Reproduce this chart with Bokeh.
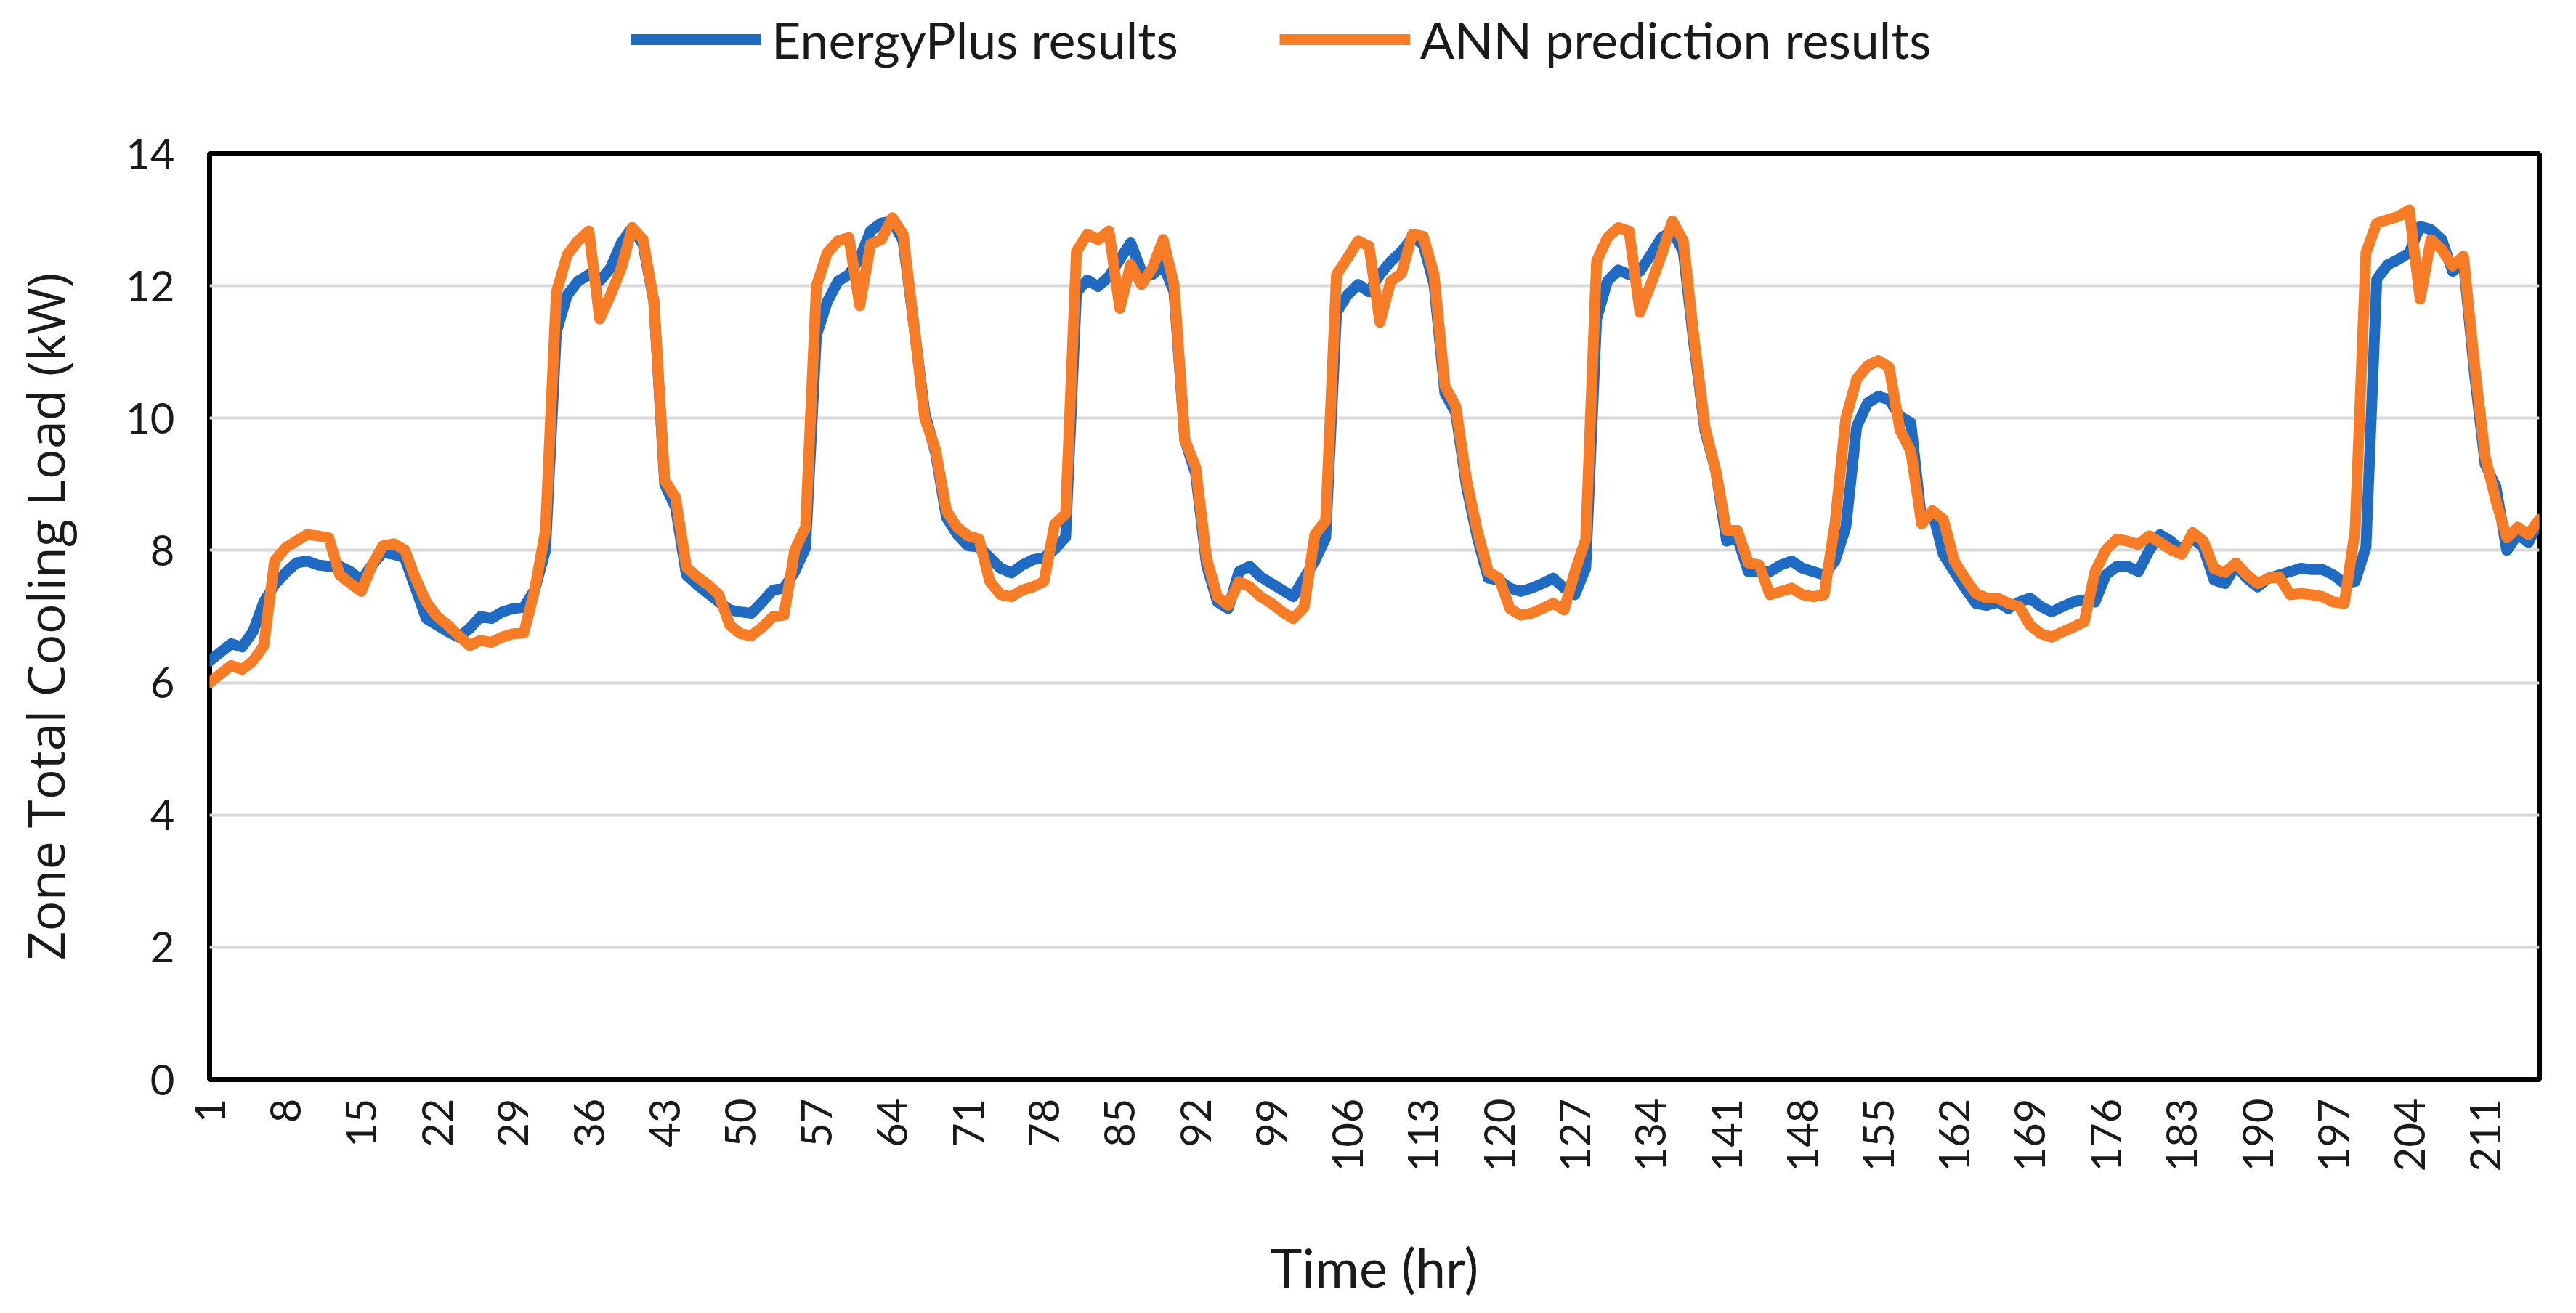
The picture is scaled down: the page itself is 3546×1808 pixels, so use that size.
import numpy as np
from bokeh.plotting import figure
from bokeh.layouts import column
from bokeh.models import Range1d, FixedTicker, Legend, LegendItem
from bokeh.embed import file_html
from bokeh.resources import INLINE

# ---------------- data ----------------
hours = list(range(1, 217))

energyplus = [
    6.33, 6.46, 6.59, 6.54, 6.77, 7.22, 7.48, 7.66, 7.81, 7.84,
    7.78, 7.76, 7.76, 7.68, 7.55, 7.78, 7.97, 7.94, 7.89, 7.43,
    6.97, 6.87, 6.77, 6.69, 6.82, 7.00, 6.97, 7.07, 7.12, 7.14,
    7.40, 8.00, 11.30, 11.86, 12.07, 12.17, 12.07, 12.27, 12.65, 12.88,
    12.63, 11.76, 9.00, 8.65, 7.63, 7.48, 7.35, 7.22, 7.10, 7.07,
    7.05, 7.22, 7.40, 7.43, 7.68, 8.04, 11.25, 11.76, 12.07, 12.17,
    12.42, 12.83, 12.95, 12.98, 12.68, 11.40, 10.08, 9.47, 8.50, 8.24,
    8.07, 8.05, 7.89, 7.73, 7.66, 7.78, 7.86, 7.89, 8.02, 8.20,
    11.90, 12.09, 11.99, 12.14, 12.40, 12.65, 12.22, 12.17, 12.32, 11.91,
    9.67, 9.16, 7.78, 7.22, 7.12, 7.68, 7.76, 7.60, 7.50, 7.40,
    7.30, 7.58, 7.84, 8.19, 11.60, 11.86, 12.02, 11.91, 12.17, 12.37,
    12.52, 12.73, 12.63, 12.02, 10.38, 10.08, 8.96, 8.19, 7.58, 7.55,
    7.43, 7.38, 7.43, 7.50, 7.58, 7.43, 7.33, 7.73, 11.50, 12.07,
    12.24, 12.17, 12.22, 12.47, 12.73, 12.83, 12.52, 11.10, 9.81, 9.20,
    8.14, 8.19, 7.68, 7.68, 7.68, 7.78, 7.84, 7.73, 7.68, 7.63,
    7.84, 8.35, 9.87, 10.23, 10.33, 10.28, 10.03, 9.93, 8.45, 8.58,
    7.94, 7.68, 7.43, 7.20, 7.17, 7.22, 7.12, 7.22, 7.28, 7.15,
    7.07, 7.15, 7.22, 7.25, 7.22, 7.63, 7.76, 7.76, 7.68, 8.00,
    8.24, 8.14, 8.00, 8.19, 8.04, 7.55, 7.50, 7.78, 7.58, 7.45,
    7.58, 7.63, 7.68, 7.73, 7.71, 7.71, 7.63, 7.50, 7.53, 8.05,
    12.10, 12.32, 12.40, 12.50, 12.90, 12.85, 12.70, 12.22, 12.37, 10.70,
    9.30, 8.96, 8.00, 8.24, 8.12, 8.45,
]

ann_prediction = [
    6.00, 6.13, 6.26, 6.20, 6.33, 6.56, 7.84, 8.04, 8.14, 8.24,
    8.22, 8.19, 7.63, 7.50, 7.38, 7.78, 8.07, 8.10, 8.01, 7.58,
    7.22, 7.00, 6.87, 6.71, 6.56, 6.64, 6.61, 6.69, 6.74, 6.75,
    7.40, 8.30, 11.90, 12.47, 12.68, 12.83, 11.50, 11.86, 12.27, 12.88,
    12.70, 11.76, 9.06, 8.80, 7.75, 7.60, 7.48, 7.33, 6.87, 6.74,
    6.71, 6.84, 7.00, 7.02, 8.00, 8.35, 12.00, 12.50, 12.68, 12.73,
    11.70, 12.63, 12.70, 13.03, 12.78, 11.40, 10.00, 9.52, 8.60, 8.35,
    8.22, 8.17, 7.53, 7.33, 7.30, 7.40, 7.45, 7.53, 8.40, 8.55,
    12.52, 12.78, 12.70, 12.83, 11.66, 12.32, 12.02, 12.27, 12.70, 12.02,
    9.67, 9.26, 7.89, 7.30, 7.17, 7.53, 7.45, 7.30, 7.20, 7.07,
    6.97, 7.14, 8.24, 8.45, 12.17, 12.42, 12.68, 12.60, 11.45, 12.07,
    12.19, 12.78, 12.75, 12.17, 10.49, 10.18, 9.06, 8.29, 7.68, 7.58,
    7.12, 7.02, 7.05, 7.12, 7.20, 7.10, 7.68, 8.17, 12.37, 12.73,
    12.88, 12.83, 11.60, 12.02, 12.47, 12.98, 12.68, 11.20, 9.87, 9.20,
    8.30, 8.30, 7.81, 7.78, 7.33, 7.38, 7.43, 7.33, 7.30, 7.33,
    8.40, 10.00, 10.59, 10.79, 10.87, 10.77, 9.82, 9.50, 8.40, 8.60,
    8.47, 7.84, 7.58, 7.35, 7.28, 7.28, 7.20, 7.15, 6.87, 6.74,
    6.69, 6.77, 6.84, 6.92, 7.68, 8.01, 8.17, 8.14, 8.09, 8.22,
    8.12, 8.01, 7.94, 8.27, 8.14, 7.72, 7.67, 7.81, 7.63, 7.50,
    7.58, 7.60, 7.33, 7.35, 7.33, 7.30, 7.22, 7.20, 8.30, 12.50,
    12.95, 13.00, 13.05, 13.15, 11.80, 12.70, 12.55, 12.30, 12.45, 10.84,
    9.42, 8.75, 8.19, 8.35, 8.24, 8.47,
]

x_ticks = list(range(1, 217, 7))
y_ticks = [0, 2, 4, 6, 8, 10, 12, 14]

series_names = ["EnergyPlus results", "ANN prediction results"]
series_colors = ["#1F6BC4", "#F87C25"]

FONT = "Lato"
LINE_W = 15

# ---------------- legend strip (above the chart) ----------------
# The legend strip holds copies of the two series whose data lies outside
# its (empty) view; only their legend glyphs are visible.
leg_fig = figure(
    width=3530, height=165,
    output_backend="svg", toolbar_location=None,
    x_range=Range1d(-1000, -999), y_range=Range1d(0, 1),
    min_border_left=0, min_border_right=0, min_border_top=0, min_border_bottom=0,
    outline_line_color=None, background_fill_color="white", border_fill_color="white",
)
leg_fig.axis.visible = False
leg_fig.grid.visible = False
lg_blue = leg_fig.line(hours, energyplus, line_color=series_colors[0], line_width=LINE_W)
lg_orange = leg_fig.line(hours, ann_prediction, line_color=series_colors[1], line_width=LINE_W)

legend = Legend(
    items=[LegendItem(label=series_names[0], renderers=[lg_blue]),
           LegendItem(label=series_names[1], renderers=[lg_orange])],
    orientation="horizontal",
    location=(580, 69),
    glyph_width=180, glyph_height=70, label_height=70,
    label_standoff=14, spacing=139,
    padding=0, margin=0,
    border_line_color=None, background_fill_alpha=0,
    label_text_font=FONT, label_text_font_size="70px",
    label_text_color="#1a1a1a",
)
leg_fig.add_layout(legend, "center")

# ---------------- main chart ----------------
p = figure(
    width=3530, height=1627,
    output_backend="svg", toolbar_location=None,
    x_range=Range1d(1, 216), y_range=Range1d(0, 14),
    min_border_left=288, min_border_right=35,
    min_border_top=46, min_border_bottom=303,
    background_fill_color="white", border_fill_color="white",
)

p.outline_line_color = "black"
p.outline_line_width = 7

p.line(hours, energyplus, line_color=series_colors[0], line_width=LINE_W,
       line_join="round", line_cap="round")
p.line(hours, ann_prediction, line_color=series_colors[1], line_width=LINE_W,
       line_join="round", line_cap="round")

# grid
p.xgrid.grid_line_color = None
p.ygrid.grid_line_color = "#D9D9D9"
p.ygrid.grid_line_width = 4
p.ygrid.ticker = FixedTicker(ticks=y_ticks)

# axes
for ax in (p.xaxis[0], p.yaxis[0]):
    ax.axis_line_color = None
    ax.major_tick_line_color = None
    ax.minor_tick_line_color = None
    ax.major_tick_out = 0
    ax.major_tick_in = 0
    ax.minor_tick_out = 0
    ax.major_label_text_font = FONT
    ax.major_label_text_font_size = "58px"
    ax.major_label_text_color = "#1a1a1a"
    ax.axis_label_text_font_style = "normal"
    ax.axis_label_text_color = "#1a1a1a"

p.xaxis.ticker = FixedTicker(ticks=x_ticks)
p.xaxis.major_label_orientation = np.pi / 2
p.xaxis.major_label_standoff = 26
p.xaxis.axis_label = "Time (hr)"
p.xaxis.axis_label_text_font = FONT
p.xaxis.axis_label_text_font_size = "74px"
p.xaxis.axis_label_standoff = 84

p.yaxis.ticker = FixedTicker(ticks=y_ticks)
p.yaxis.major_label_standoff = 48
p.yaxis.axis_label = "Zone Total Cooling Load (kW)"
p.yaxis.axis_label_text_font = "Open Sans"
p.yaxis.axis_label_text_font_size = "70px"
p.yaxis.axis_label_standoff = 60

layout = column(leg_fig, p, spacing=0)

open("out.html", "w").write(file_html(layout, INLINE))
